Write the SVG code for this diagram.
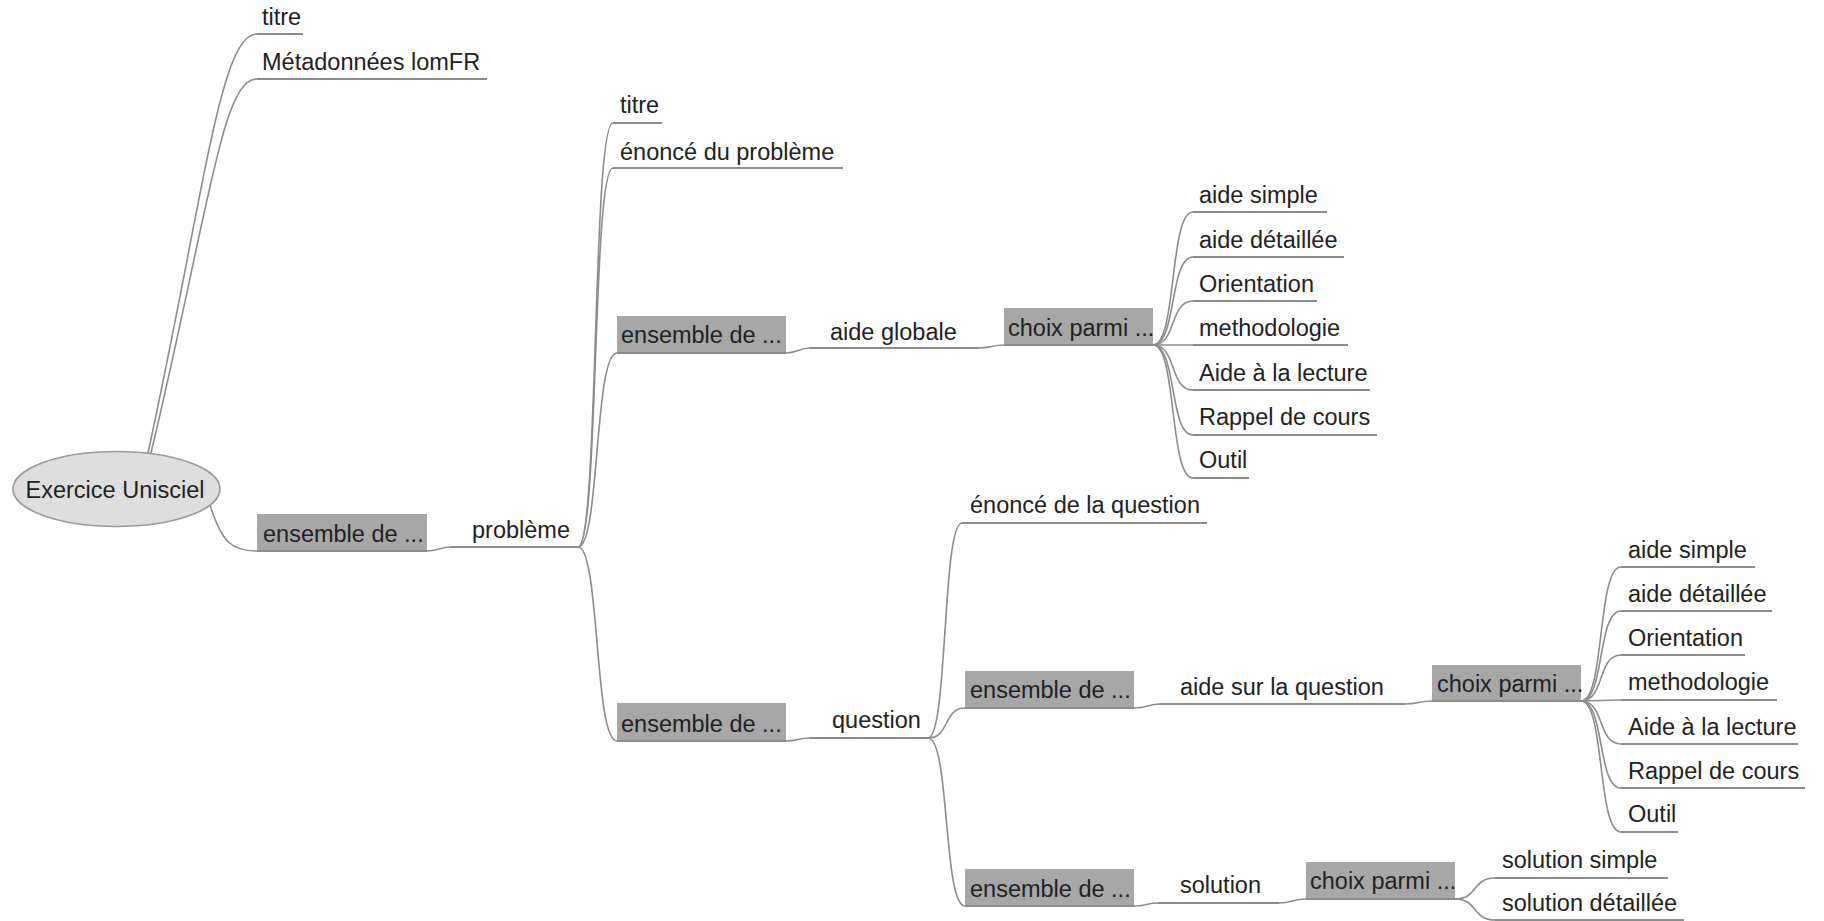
<svg xmlns="http://www.w3.org/2000/svg" width="1824" height="921" viewBox="0 0 1824 921">
<style>
text{font-family:"Liberation Sans",Arial,sans-serif;font-size:23.5px;fill:#222}
.c{fill:none;stroke:#8c8c8c;stroke-width:1.6}
.u{fill:none;stroke:#8c8c8c;stroke-width:2}
.b{fill:#a7a7a7;stroke:none}
.root{fill:#dedede;stroke:#9a9a9a;stroke-width:1.6}
</style>
<rect width="1824" height="921" fill="#fff"/>
<g id="connectors">
<path class="c" d="M148,453 C205,190 220,34 257,34"/>
<path class="c" d="M151,453 C210,205 222,79 257,79"/>
<path class="c" d="M210,505 C222,543 232,551 257,551"/>
<path class="c" d="M427,551 C438,551 440,547 451,547"/>
<path class="c" d="M578,547 C599,547 592,123 613,123"/>
<path class="c" d="M578,547 C599,547 592,168 613,168"/>
<path class="c" d="M578,547 C600,547 594,353 617,353"/>
<path class="c" d="M578,547 C600,547 594,741 617,741"/>
<path class="c" d="M786,353 C797,353 799,348 810,348"/>
<path class="c" d="M979,348 C990,348 993,345 1004,345"/>
<path class="c" d="M1153,345 C1177,345 1169,212 1193,212"/>
<path class="c" d="M1153,345 C1177,345 1169,257 1193,257"/>
<path class="c" d="M1153,345 C1177,345 1169,301 1193,301"/>
<path class="c" d="M1153,345 L1193,345"/>
<path class="c" d="M1153,345 C1177,345 1169,390 1193,390"/>
<path class="c" d="M1153,345 C1177,345 1169,435 1193,435"/>
<path class="c" d="M1153,345 C1177,345 1169,478 1193,478"/>
<path class="c" d="M786,741 C797,741 799,738 810,738"/>
<path class="c" d="M928,738 C948,738 942,523 962,523"/>
<path class="c" d="M928,738 C950,738 943,708 965,708"/>
<path class="c" d="M928,738 C950,738 943,906 965,906"/>
<path class="c" d="M1134,708 C1147,708 1148,704 1160,704"/>
<path class="c" d="M1405,704 C1418,704 1419,701 1432,701"/>
<path class="c" d="M1581,701 C1605,701 1597,567 1621,567"/>
<path class="c" d="M1581,701 C1605,701 1597,611 1621,611"/>
<path class="c" d="M1581,701 C1605,701 1597,655 1621,655"/>
<path class="c" d="M1581,701 L1621,700"/>
<path class="c" d="M1581,701 C1605,701 1597,744 1621,744"/>
<path class="c" d="M1581,701 C1605,701 1597,788 1621,788"/>
<path class="c" d="M1581,701 C1605,701 1597,832 1621,832"/>
<path class="c" d="M1134,906 C1146,906 1147,903 1158,903"/>
<path class="c" d="M1279,903 C1292,903 1293,899 1306,899"/>
<path class="c" d="M1455,899 C1478,899 1472,878 1495,878"/>
<path class="c" d="M1455,899 C1478,899 1472,920 1495,920"/>
</g>
<g id="n-root"><ellipse class="root" cx="116.5" cy="489" rx="103.5" ry="37.5"/><text x="115" y="498" text-anchor="middle">Exercice Unisciel</text></g>
<g id="n-titre1"><path class="u" d="M257,34 H303"/><text x="262" y="25">titre</text></g>
<g id="n-meta"><path class="u" d="M257,79 H487"/><text x="262" y="70">Métadonnées lomFR</text></g>
<g id="n-ens1"><rect class="b" x="257" y="514" width="170" height="37"/><path class="u" d="M257,551 H427"/><text x="263" y="542">ensemble de ...</text></g>
<g id="n-probleme"><path class="u" d="M451,547 H578"/><text x="472" y="538">problème</text></g>
<g id="n-titre2"><path class="u" d="M613,123 H662"/><text x="620" y="113">titre</text></g>
<g id="n-enonce-pb"><path class="u" d="M613,168 H843"/><text x="620" y="160">énoncé du problème</text></g>
<g id="n-ens2"><rect class="b" x="617" y="316" width="169" height="37"/><path class="u" d="M617,353 H786"/><text x="621" y="343">ensemble de ...</text></g>
<g id="n-aide-globale"><path class="u" d="M810,348 H979"/><text x="830" y="340">aide globale</text></g>
<g id="n-choix1"><rect class="b" x="1004" y="308" width="149" height="37"/><path class="u" d="M1004,345 H1153"/><text x="1008" y="336">choix parmi ...</text></g>
<g id="n-g1-1"><path class="u" d="M1193,212 H1327"/><text x="1199" y="203">aide simple</text></g>
<g id="n-g1-2"><path class="u" d="M1193,257 H1344"/><text x="1199" y="248">aide détaillée</text></g>
<g id="n-g1-3"><path class="u" d="M1193,301 H1317"/><text x="1199" y="292">Orientation</text></g>
<g id="n-g1-4"><path class="u" d="M1193,345 H1348"/><text x="1199" y="336">methodologie</text></g>
<g id="n-g1-5"><path class="u" d="M1193,390 H1370"/><text x="1199" y="381">Aide à la lecture</text></g>
<g id="n-g1-6"><path class="u" d="M1193,435 H1377"/><text x="1199" y="425">Rappel de cours</text></g>
<g id="n-g1-7"><path class="u" d="M1193,478 H1249"/><text x="1199" y="468">Outil</text></g>
<g id="n-ens4"><rect class="b" x="617" y="703" width="169" height="38"/><path class="u" d="M617,741 H786"/><text x="621" y="732">ensemble de ...</text></g>
<g id="n-question"><path class="u" d="M810,738 H928"/><text x="832" y="728">question</text></g>
<g id="n-enonce-q"><path class="u" d="M962,523 H1207"/><text x="970" y="513">énoncé de la question</text></g>
<g id="n-ens5"><rect class="b" x="965" y="671" width="169" height="37"/><path class="u" d="M965,708 H1134"/><text x="970" y="698">ensemble de ...</text></g>
<g id="n-aide-q"><path class="u" d="M1160,704 H1405"/><text x="1180" y="695">aide sur la question</text></g>
<g id="n-choix2"><rect class="b" x="1432" y="665" width="149" height="36"/><path class="u" d="M1432,701 H1581"/><text x="1437" y="692">choix parmi ...</text></g>
<g id="n-g2-1"><path class="u" d="M1621,567 H1755"/><text x="1628" y="558">aide simple</text></g>
<g id="n-g2-2"><path class="u" d="M1621,611 H1772"/><text x="1628" y="602">aide détaillée</text></g>
<g id="n-g2-3"><path class="u" d="M1621,655 H1745"/><text x="1628" y="646">Orientation</text></g>
<g id="n-g2-4"><path class="u" d="M1621,700 H1777"/><text x="1628" y="690">methodologie</text></g>
<g id="n-g2-5"><path class="u" d="M1621,744 H1798"/><text x="1628" y="735">Aide à la lecture</text></g>
<g id="n-g2-6"><path class="u" d="M1621,788 H1805"/><text x="1628" y="779">Rappel de cours</text></g>
<g id="n-g2-7"><path class="u" d="M1621,832 H1678"/><text x="1628" y="822">Outil</text></g>
<g id="n-ens7"><rect class="b" x="965" y="869" width="169" height="37"/><path class="u" d="M965,906 H1134"/><text x="970" y="897">ensemble de ...</text></g>
<g id="n-solution"><path class="u" d="M1158,903 H1279"/><text x="1180" y="893">solution</text></g>
<g id="n-choix3"><rect class="b" x="1306" y="862" width="149" height="37"/><path class="u" d="M1306,899 H1455"/><text x="1310" y="889">choix parmi ...</text></g>
<g id="n-sol-simple"><path class="u" d="M1495,878 H1668"/><text x="1502" y="868">solution simple</text></g>
<g id="n-sol-detail"><path class="u" d="M1495,920 H1684"/><text x="1502" y="911">solution détaillée</text></g>
</svg>
